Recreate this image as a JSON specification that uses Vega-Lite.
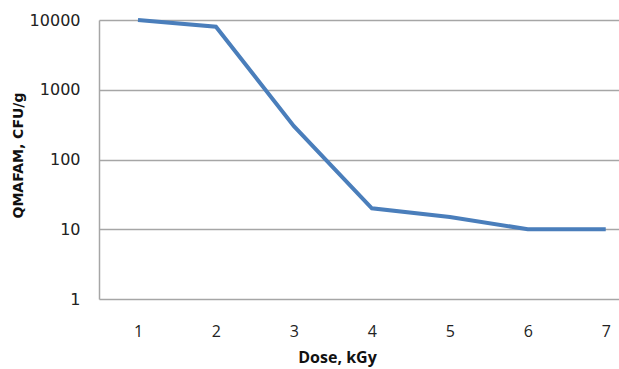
{
  "$schema": "https://vega.github.io/schema/vega-lite/v6.json",
  "width": 520,
  "height": 279,
  "autosize": {"type": "none"},
  "padding": {"left": 99, "top": 20, "right": 0, "bottom": 70},
  "background": "white",
  "config": {"view": {"stroke": null}},
  "data": {"values": [
    {"dose": 1, "cfu": 10000},
    {"dose": 2, "cfu": 8000},
    {"dose": 3, "cfu": 300},
    {"dose": 4, "cfu": 20},
    {"dose": 5, "cfu": 15},
    {"dose": 6, "cfu": 10},
    {"dose": 7, "cfu": 10}
  ]},
  "mark": {"type": "line", "color": "#4a7ebb", "strokeWidth": 4, "clip": false},
  "encoding": {
    "x": {
      "field": "dose", "type": "quantitative",
      "scale": {"domain": [0.5, 7.17], "nice": false, "zero": false},
      "axis": {
        "values": [1, 2, 3, 4, 5, 6, 7],
        "title": "Dose, kGy",
        "grid": false, "ticks": false, "domain": false,
        "labelFont": "Open Sans", "labelFontSize": 16, "labelColor": "#222",
        "labelPadding": 24,
        "titleFont": "Open Sans", "titleFontSize": 16, "titleFontWeight": "bold", "titleColor": "#111",
        "titleAnchor": "middle", "titleAlign": "center", "titleX": 238, "titleY": 50
      }
    },
    "y": {
      "field": "cfu", "type": "quantitative",
      "scale": {"type": "log", "domain": [1, 10000], "nice": false},
      "axis": {
        "values": [1, 10, 100, 1000, 10000],
        "format": "d",
        "title": "QMAFAM, CFU/g",
        "grid": true, "gridColor": "#a6a6a6", "gridWidth": 1.5,
        "domain": true, "domainColor": "#a6a6a6", "domainWidth": 1.5,
        "ticks": false,
        "labelFont": "DejaVu Sans", "labelFontSize": 16, "labelColor": "#222",
        "labelPadding": 19,
        "titleFont": "DejaVu Sans", "titleFontSize": 14, "titleFontWeight": "bold", "titleColor": "#111",
        "titleX": -77, "titleY": 135, "titleAnchor": "middle", "titleAlign": "center", "titleBaseline": "alphabetic"
      }
    }
  }
}
